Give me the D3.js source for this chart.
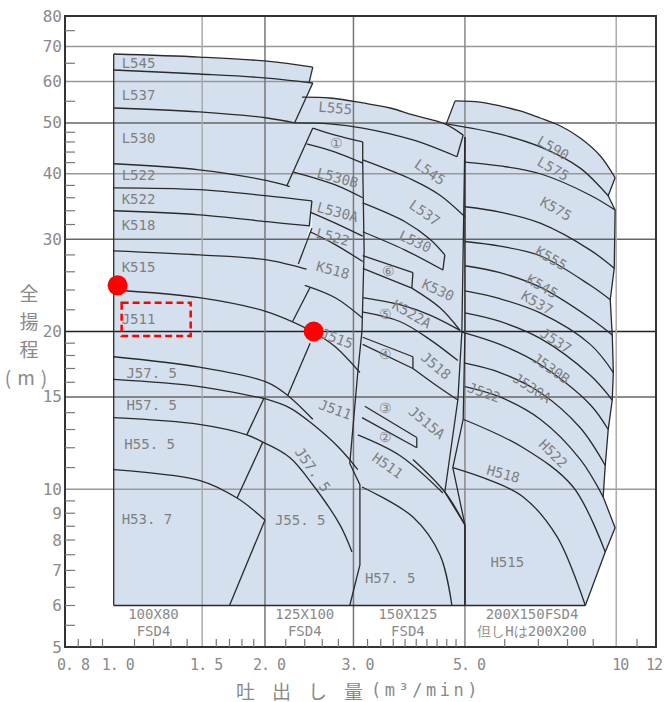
<!DOCTYPE html>
<html><head><meta charset="utf-8">
<script src="https://cdn.jsdelivr.net/npm/d3@7"></script>
<style>body{margin:0;background:#fff}</style>
</head><body><svg id="c" width="671" height="702"></svg>
<script>
// ---------- axis data ----------
const xTickValues = [0.8, 1.0, 1.5, 2.0, 3.0, 5.0, 10, 12];
const xTickLabels = ["0. 8", "1. 0", "1. 5", "2. 0", "3. 0", "5. 0", "10", "12"];
const yTickValues = [80, 70, 60, 50, 40, 30, 20, 15, 10, 9, 8, 7, 6, 5];
const yTickLabels = ["80", "70", "60", "50", "40", "30", "20", "15", "10", "9", "8", "7", "6", "5"];
const yMinorTicks = [75, 65, 55, 48, 46, 44, 42, 38, 36, 34, 32, 28, 26, 24, 22, 19, 18, 17, 16, 14, 13, 12, 11, 9.5, 9, 8.5, 8, 7.5, 7, 6.5, 6, 5.5];
const xMinorTicks = [0.85, 0.9, 0.95, 1.1, 1.2, 1.3, 1.4, 1.6, 1.7, 1.8, 1.9, 2.2, 2.4, 2.6, 2.8, 3.2, 3.4, 3.6, 3.8, 4.0, 4.2, 4.4, 4.6, 4.8, 6, 7, 8, 9, 11];
const hGrid = [70, 60, 50, 40, 30, 20, 15, 10];
const vGrid = [1.5, 2.0, 3.0, 5.0, 10];

// ---------- pump areas (Q m3/min, H m) ----------
const env1 = [[1.00,6.0],[1.00,67.7],[1.48,66.8],[2.02,65.6],[2.49,63.9],[2.45,59.9],[2.49,59.6],[2.29,50.0],[2.49,48.9],[2.21,37.9],[2.48,36.0],[2.46,31.8],[2.33,26.9],[2.46,24.3],[2.27,20.9],[2.46,19.0],[2.22,15.1],[1.99,14.9],[1.84,12.7],[1.98,12.3],[1.76,9.62],[2.00,8.74],[1.70,6.0]];
const env2 = [[1.70,6.0],[2.00,8.74],[1.76,9.62],[1.98,12.3],[1.84,12.7],[1.99,14.9],[2.22,15.1],[2.46,19.0],[2.27,20.9],[2.46,24.3],[2.33,26.9],[2.48,31.5],[2.48,36.0],[2.21,37.9],[2.49,48.9],[3.13,46.0],[3.13,41.9],[3.15,28.6],[3.12,20.1],[3.06,16.7],[2.95,11.2],[3.09,10.2],[3.09,7.17],[2.95,6.0]];
const env3 = [[2.29,50.0],[2.37,56.0],[2.69,55.8],[3.13,54.6],[3.55,53.4],[3.94,51.8],[4.56,49.8],[4.96,47.4],[5.0,47.0],[5.0,6.0],[2.95,6.0],[3.09,7.17],[3.09,10.2],[2.95,11.2],[3.06,16.7],[3.12,20.1],[3.15,28.6],[3.13,46.0],[2.49,48.9]];
const env4 = [[4.59,49.8],[4.78,55.1],[5.36,54.8],[5.87,53.9],[6.44,52.7],[7.06,51.1],[7.73,49.4],[8.48,46.8],[9.29,43.3],[9.95,39.3],[9.64,36.3],[9.95,34.1],[9.91,26.4],[9.73,23.0],[9.82,19.7],[9.87,16.7],[9.82,14.8],[9.64,13.0],[9.51,11.1],[9.42,9.67],[9.95,8.44],[9.51,7.59],[8.68,6.0],[5.0,6.0],[4.73,11.0],[5.0,47.0]];

// 100x80 FSD4 curves
const g1Curves = [
  [[1.00,67.7],[1.48,66.8],[2.02,65.6],[2.49,63.9]],
  [[1.00,63.1],[1.48,62.0],[2.02,60.9],[2.49,59.6]],
  [[1.00,53.4],[1.48,52.5],[2.02,51.1],[2.29,50.0]],
  [[1.00,41.8],[1.48,40.7],[2.02,38.8],[2.24,37.8]],
  [[1.00,37.6],[1.48,37.3],[2.02,36.3],[2.48,35.5]],
  [[1.00,34.0],[1.48,33.4],[2.02,32.4],[2.46,31.8]],
  [[1.00,28.5],[1.48,28.0],[2.02,27.4],[2.42,26.3]],
  [[1.00,24.0],[1.48,23.2],[2.02,21.8],[2.49,20.0]],
  [[1.00,17.9],[1.48,17.1],[2.02,16.0],[2.22,15.1],[2.49,13.6]],
  [[1.00,16.2],[1.48,15.7],[1.99,14.9]],
  [[1.00,13.7],[1.48,13.3],[1.84,12.7],[1.98,12.3]],
  [[1.00,10.9],[1.48,10.4],[1.76,9.62],[2.00,8.74]]
];
const g1Edges = [
  [[1.00,6.0],[1.00,67.7]],
  [[2.49,63.9],[2.45,59.9]],
  [[2.49,59.6],[2.29,50.0]],
  [[2.49,48.9],[2.21,37.9]],
  [[2.48,35.5],[2.45,31.8]],
  [[2.48,31.5],[2.33,26.9]],
  [[2.46,24.3],[2.27,20.9]],
  [[2.46,19.0],[2.22,15.1]],
  [[1.99,14.9],[1.84,12.7]],
  [[1.98,12.3],[1.76,9.62]],
  [[2.00,8.74],[1.70,6.0]]
];
// 125x100 FSD4 curves
const g2Curves = [
  [[2.49,48.9],[2.76,47.4],[3.13,46.0]],
  [[2.42,45.6],[2.76,44.0],[3.13,41.9]],
  [[2.28,40.3],[2.76,38.1],[3.13,36.0]],
  [[2.46,33.8],[2.76,32.2],[3.13,30.4]],
  [[2.46,31.0],[2.76,29.3],[3.13,27.2]],
  [[2.40,24.5],[2.76,23.2],[3.13,21.2]],
  [[2.49,20.0],[2.76,18.7],[3.09,16.7]],
  [[1.99,14.9],[2.24,14.3],[2.49,13.3],[2.82,11.95],[3.06,10.9]],
  [[1.98,12.3],[2.24,11.5],[2.49,10.2],[2.82,8.55],[2.98,7.59]]
];
const g2Border = [[3.13,46.0],[3.13,41.9],[3.15,28.6],[3.12,20.1],[3.06,16.7],[2.95,11.2],[3.09,10.2],[3.09,7.17],[2.95,6.0]];
// 150x125 FSD4 curves
const g3Curves = [
  [[2.37,56.0],[2.69,55.8],[3.13,54.6],[3.55,53.4],[3.94,51.8],[4.56,49.8],[4.96,47.4]],
  [[2.29,50.0],[2.69,49.8],[3.13,48.9],[3.94,46.4],[4.82,43.1]],
  [[3.13,42.5],[3.94,38.9],[4.46,36.4],[5.0,33.1]],
  [[3.13,35.2],[3.80,32.4],[4.26,30.0],[4.56,28.0]],
  [[3.13,31.0],[3.80,28.6],[4.52,26.2]],
  [[3.13,27.9],[3.94,25.9]],
  [[3.13,26.4],[3.92,24.2]],
  [[3.92,24.2],[4.46,22.2],[4.89,20.1]],
  [[3.13,23.2],[3.71,22.5],[4.26,21.5],[4.89,20.1]],
  [[3.12,21.8],[3.71,20.9],[4.26,19.3],[4.84,17.6]],
  [[3.13,19.5],[3.94,17.9]],
  [[3.13,18.9],[3.94,17.0]],
  [[3.94,17.0],[4.46,15.6],[4.84,14.8]],
  [[3.16,14.4],[4.01,12.55]],
  [[3.12,13.7],[4.01,12.0]],
  [[3.06,12.7],[3.71,11.6],[4.52,9.84]],
  [[3.12,10.1],[3.94,8.85],[4.46,7.49],[4.71,6.0]],
  [[3.94,11.4],[4.56,9.88],[5.0,8.55]]
];
const g3Edges = [
  [[4.96,47.4],[4.82,43.1]],
  [[4.56,28.0],[4.52,26.2]],
  [[3.94,25.9],[3.92,24.2]],
  [[3.94,17.9],[3.94,17.0]],
  [[4.01,12.55],[4.01,12.0]],
  [[5.0,47.0],[4.93,19.95],[4.84,14.8],[4.56,9.88],[5.0,8.55],[5.0,6.0]]
];
// 200x150 FSD4 curves
const g4Curves = [
  [[4.78,55.1],[5.36,54.8],[5.87,53.9],[6.44,52.7],[7.06,51.1],[7.73,49.4],[8.48,46.8],[9.29,43.3],[9.95,39.3]],
  [[4.59,49.8],[5.87,47.6],[7.06,45.0],[8.48,41.0],[9.64,36.3]],
  [[5.0,42.1],[5.87,41.4],[7.06,40.0],[8.88,36.4],[9.95,34.1]],
  [[5.0,34.6],[5.87,33.8],[7.06,32.2],[8.88,28.6],[9.91,26.4]],
  [[5.0,29.7],[5.87,29.1],[7.06,27.9],[8.88,24.5],[9.73,23.0]],
  [[5.0,26.7],[5.87,25.9],[7.06,24.3],[8.88,21.2],[9.82,19.7]],
  [[5.0,23.9],[5.87,23.1],[7.06,21.7],[8.88,18.9],[9.87,16.7]],
  [[5.0,21.7],[5.87,20.9],[7.06,19.4],[8.88,16.5],[9.82,14.8]],
  [[4.93,19.95],[5.87,18.9],[7.06,17.3],[8.88,14.5],[9.64,13.0]],
  [[5.0,17.4],[5.87,16.7],[7.06,15.3],[8.48,13.1],[9.51,11.1]],
  [[5.0,15.7],[5.87,15.0],[7.06,13.6],[8.48,11.4],[9.42,9.67]],
  [[4.96,13.6],[6.53,12.0],[8.21,10.1],[9.51,7.59]],
  [[4.73,11.0],[5.61,10.4],[6.53,9.67],[7.63,8.11],[8.68,6.0]]
];
const g4Edges = [
  [[4.78,55.1],[4.59,49.8]],
  [[9.95,39.3],[9.64,36.3],[9.95,34.1],[9.91,26.4],[9.73,23.0],[9.82,19.7],[9.87,16.7],[9.82,14.8],[9.64,13.0],[9.51,11.1],[9.42,9.67],[9.95,8.44],[9.51,7.59],[8.68,6.0]],
  [[5.0,47.0],[5.0,19.95],[4.96,13.6],[4.73,11.0],[5.0,8.55],[5.0,6.0]]
];
const baseLine = [[1.00,6.0],[8.68,6.0]];

// labels: text, Q, H, angle
const areaLabels = [
  ["L545",1.037,65.1,0],["L537",1.037,56.5,0],["L530",1.037,46.8,0],["L522",1.037,39.8,0],
  ["K522",1.037,35.8,0],["K518",1.037,31.9,0],["K515",1.037,26.6,0],["J511",1.037,21.1,0],
  ["J57. 5",1.06,16.7,0],["H57. 5",1.06,14.5,0],["H55. 5",1.05,12.2,0],["H53. 7",1.037,8.78,0],
  ["L555",2.76,53.4,5,"m"],["①",2.77,45.8,0,"m"],["L530B",2.79,39.3,15,"m"],["L530A",2.79,33.8,15,"m"],
  ["L522",2.73,30.3,15,"m"],["K518",2.73,26.2,15,"m"],["J515",2.78,19.4,20,"m"],["J511",2.76,14.2,20,"m"],
  ["J57. 5",2.49,10.9,55,"m"],["J55. 5",2.35,8.74,0,"m"],
  ["L545",4.26,40.3,35,"m"],["L537",4.16,33.7,35,"m"],["L530",3.98,29.7,25,"m"],["⑥",3.53,26.1,0,"m"],
  ["K530",4.42,24.0,25,"m"],["⑤",3.47,21.6,0,"m"],["K522A",3.92,21.6,30,"m"],["④",3.48,18.1,0,"m"],
  ["J518",4.38,17.2,40,"m"],["③",3.48,14.3,0,"m"],["②",3.47,12.6,0,"m"],["J515A",4.20,13.4,40,"m"],
  ["H511",3.51,11.1,35,"m"],["H57. 5",3.55,6.77,0,"m"],
  ["L590",7.49,44.8,30,"m"],["L575",7.49,40.9,30,"m"],["K575",7.59,34.3,30,"m"],["K555",7.42,27.6,30,"m"],
  ["K545",7.12,24.4,30,"m"],["K537",6.96,22.7,30,"m"],["J537",7.59,19.2,33,"m"],["J530B",7.42,17.0,35,"m"],
  ["J530A",6.80,15.6,33,"m"],["J522",5.46,15.3,20,"m"],["H522",7.49,11.7,45,"m"],["H518",5.96,10.7,15,"m"],
  ["H515",6.07,7.26,0,"m"]
];
const sizeLabels = [["100X80","FSD4",1.20],["125X100","FSD4",2.40],["150X125","FSD4",3.85],["200X150FSD4","但しHは200X200",6.80]];
const markPoints = [[1.018,24.5],[2.50,20.0]];
const markBox = [[1.037,22.7],[1.423,19.6]];

// ---------- drawing ----------
const svg = d3.select("#c");
const x = d3.scaleLog().domain([0.8, 12]).range([65, 656]);
const y = d3.scaleLog().domain([5, 80]).range([647, 16]);
svg.append("rect").attr("width",671).attr("height",702).attr("fill","#fff");

const poly = d3.line().x(d=>x(d[0])).y(d=>y(d[1]));
const smooth = d3.line().x(d=>x(d[0])).y(d=>y(d[1])).curve(d3.curveCatmullRom.alpha(0.5));
const FILL = "#d5e0ef", INK = "#2a2a2a";

svg.append("g").selectAll("path").data([env1, env2, env3, env4]).join("path")
  .attr("d", d => poly(d) + "Z").attr("fill", FILL).attr("stroke", FILL).attr("stroke-width", 0.5);

// grid
const hCol = v => v === 20 ? "#222" : ([15, 30, 50].includes(v) ? "#666" : "#999");
svg.append("g").selectAll("line").data(hGrid).join("line")
  .attr("x1", 65).attr("x2", 656).attr("y1", d=>y(d)).attr("y2", d=>y(d))
  .attr("stroke", hCol).attr("stroke-width", 1.5);
const vCol = v => ([2.0, 3.0].includes(v) ? "#777" : (v === 5.0 ? "#888" : "#aaa"));
svg.append("g").selectAll("line").data(vGrid).join("line")
  .attr("y1", 16).attr("y2", 647).attr("x1", d=>x(d)).attr("x2", d=>x(d))
  .attr("stroke", vCol).attr("stroke-width", 1.5);

// curves & edges
const lines = svg.append("g").attr("fill", "none").attr("stroke", INK).attr("stroke-width", 1.3);
[g1Curves, g2Curves, g3Curves, g4Curves].forEach(arr =>
  lines.append("g").selectAll("path").data(arr).join("path").attr("d", smooth));
[g1Edges, g3Edges, g4Edges, [g2Border], [baseLine]].forEach(arr =>
  lines.append("g").selectAll("path").data(arr).join("path").attr("d", poly));

// area labels
svg.append("g").selectAll("text").data(areaLabels).join("text")
  .attr("transform", d => `translate(${x(d[1])},${y(d[2])}) rotate(${d[3]})`)
  .attr("text-anchor", d => d[4] === "m" ? "middle" : "start")
  .attr("dominant-baseline", "central")
  .attr("font-family", "DejaVu Sans Mono, monospace").attr("font-size", 14)
  .attr("fill", "#7f7f7f").text(d => d[0]);

// frame
svg.append("rect").attr("x", 65).attr("y", 16).attr("width", 591).attr("height", 631)
  .attr("fill", "none").attr("stroke", "#333").attr("stroke-width", 2);

// ticks
svg.append("g").selectAll("line").data(yMinorTicks).join("line")
  .attr("x1", 65).attr("x2", 75).attr("y1", d=>y(d)).attr("y2", d=>y(d))
  .attr("stroke", "#777").attr("stroke-width", 1.2);
svg.append("g").selectAll("line").data(xMinorTicks).join("line")
  .attr("y1", 647).attr("y2", 639).attr("x1", d=>x(d)).attr("x2", d=>x(d))
  .attr("stroke", "#777").attr("stroke-width", 1.2);

const tickFont = "DejaVu Sans Mono, monospace";
svg.append("g").selectAll("text").data(yTickValues).join("text")
  .attr("x", 62).attr("y", d=>y(d)).attr("text-anchor", "end").attr("dominant-baseline", "central")
  .attr("font-family", tickFont).attr("font-size", 16).attr("fill", "#8a8a8a")
  .text((d,i) => yTickLabels[i]);
svg.append("g").selectAll("text").data(xTickValues).join("text")
  .attr("x", d=>Math.min(654, Math.max(73, x(d)+4))).attr("y", 665).attr("text-anchor", "middle").attr("dominant-baseline", "central")
  .attr("font-family", tickFont).attr("font-size", 15).attr("letter-spacing", -1).attr("fill", "#8a8a8a")
  .text((d,i) => xTickLabels[i]);

// size labels
const sl = svg.append("g").attr("font-family", tickFont).attr("font-size", 14).attr("fill", "#8a8a8a").attr("text-anchor", "middle");
sl.selectAll("text.a").data(sizeLabels).join("text").attr("class","a")
  .attr("x", d=>x(d[2])).attr("y", 614).attr("dominant-baseline","central").text(d=>d[0]);
sl.selectAll("text.b").data(sizeLabels).join("text").attr("class","b")
  .attr("x", d=>x(d[2])).attr("y", 631).attr("dominant-baseline","central").text(d=>d[1]);

// axis titles
const yt = ["全","揚","程","(m)"];
svg.append("g").selectAll("text").data(yt).join("text")
  .attr("x", 29).attr("y", (d,i)=>292 + i*28).attr("text-anchor","middle").attr("dominant-baseline","central")
  .attr("font-family","Noto Sans CJK JP, sans-serif").attr("font-size", 19).attr("fill","#8a8a8a")
  .attr("letter-spacing", (d,i)=> i===3 ? 6 : 0).text(d=>d);
svg.append("text").attr("x", 236).attr("y", 690).attr("dominant-baseline","central")
  .attr("font-family","Noto Sans CJK JP, sans-serif").attr("font-size", 19).attr("fill","#8a8a8a")
  .attr("letter-spacing", 17).text("吐出し量");
svg.append("text").attr("x", 371).attr("y", 690).attr("dominant-baseline","central")
  .attr("font-family", tickFont).attr("font-size", 17).attr("fill","#8a8a8a")
  .attr("letter-spacing", 3.5).text("(m³/min)");

// red annotations
svg.append("g").selectAll("circle").data(markPoints).join("circle")
  .attr("cx", d=>x(d[0])).attr("cy", d=>y(d[1])).attr("r", 10).attr("fill", "#f00");
svg.append("rect")
  .attr("x", x(markBox[0][0])).attr("y", y(markBox[0][1]))
  .attr("width", x(markBox[1][0]) - x(markBox[0][0])).attr("height", y(markBox[1][1]) - y(markBox[0][1]))
  .attr("fill", "none").attr("stroke", "#f00").attr("stroke-width", 2.5).attr("stroke-dasharray", "7,4");
</script></body></html>
